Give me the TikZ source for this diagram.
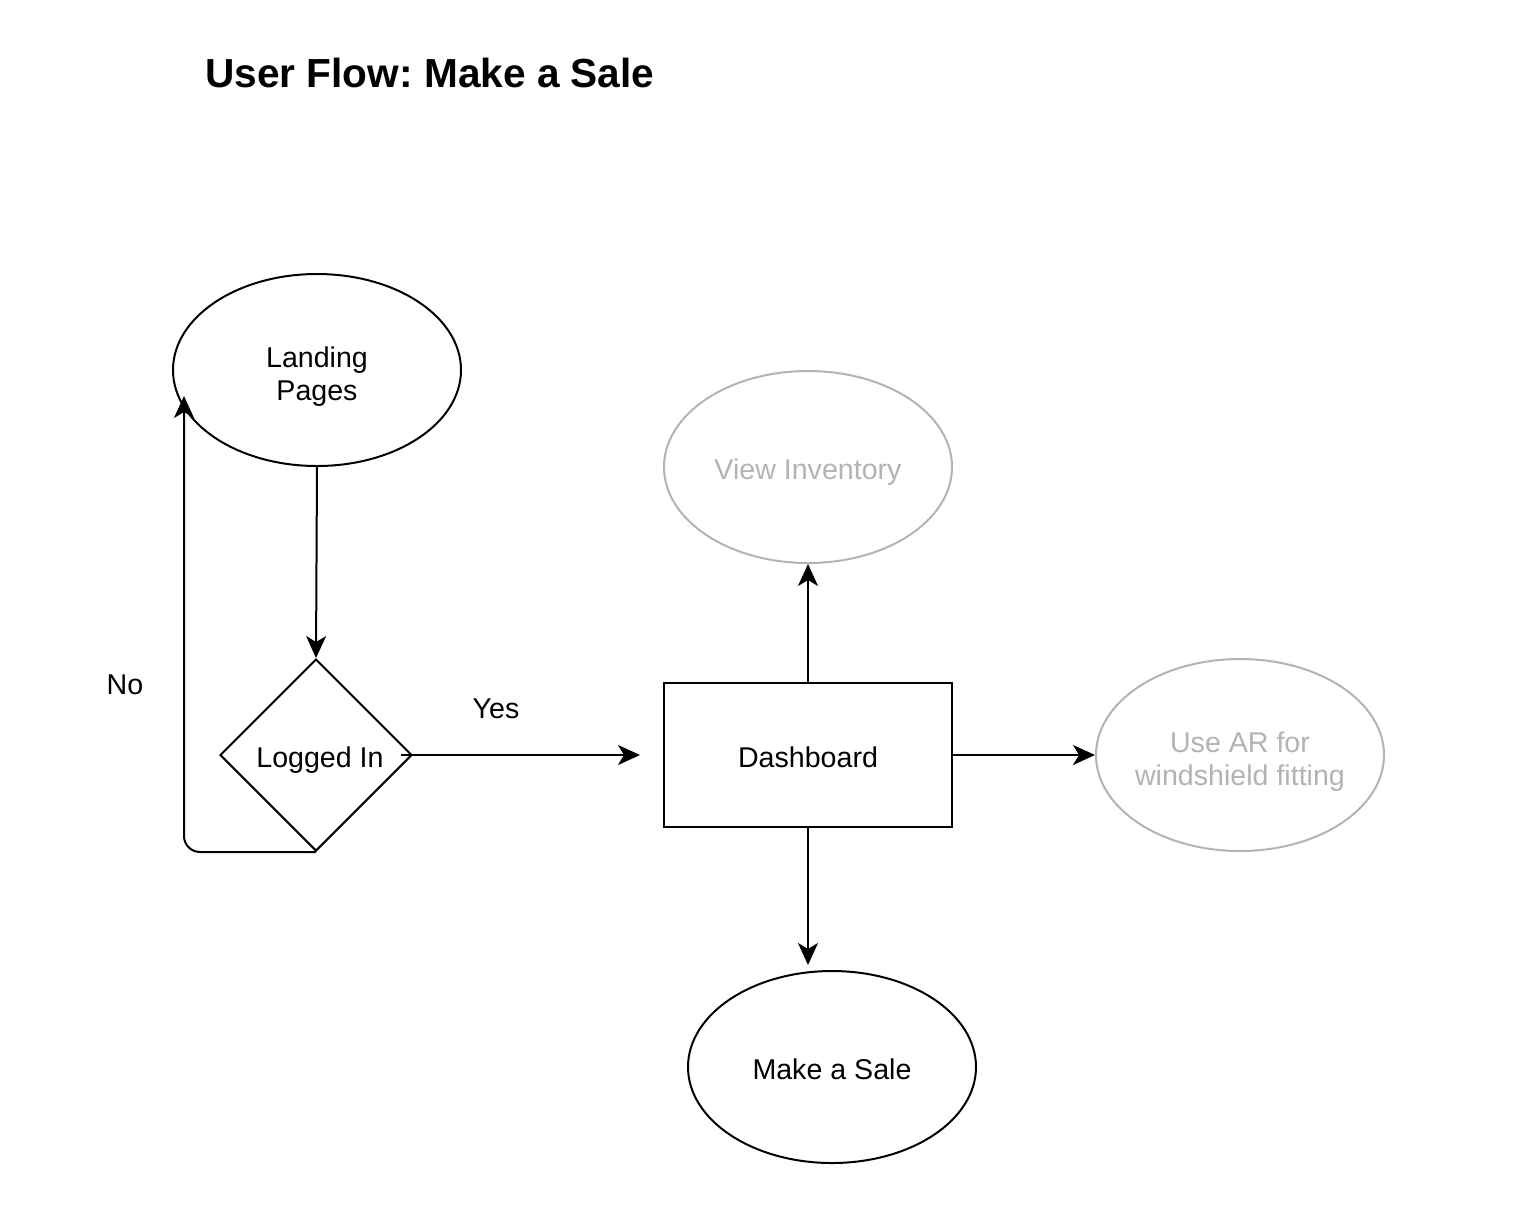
\documentclass[tikz,border=0pt]{standalone}
\usepackage{fontspec}
\setmainfont{Liberation Sans}
\usetikzlibrary{shapes.geometric,arrows.meta}
\definecolor{lightg}{HTML}{B3B3B3}
\frenchspacing
\newcommand{\twolines}[2]{\makebox[0pt][c]{\begin{tabular}[b]{@{}c@{}}#1\\#2\end{tabular}}}
\begin{document}
\begin{tikzpicture}[x=0.5pt,y=-0.5pt,
  base/.style={draw=black,line width=1pt,font=\fontsize{14.3}{16.5}\selectfont,inner sep=0pt,text height=14pt,text depth=2pt},
  multi/.style={text height=33pt,text depth=3pt},
  ell/.style={base,ellipse,minimum width=144pt,minimum height=96pt},
  ghost/.style={ell,draw=lightg,text=lightg},
  dia/.style={base,diamond,aspect=1,minimum width=96pt,minimum height=96pt},
  box/.style={base,rectangle,minimum width=144pt,minimum height=72pt},
  lbl/.style={font=\fontsize{14.3}{16.5}\selectfont,inner sep=0pt},
  arr/.style={line width=1pt,-{Stealth[length=11pt,width=10pt,inset=3pt]}}]
\useasboundingbox (0,0) rectangle (1536,1228);
\node[anchor=base west,inner sep=0pt,font=\fontsize{20.3}{24}\selectfont\bfseries] (title) at (205,87) {User Flow: Make a Sale};
\node[ell,multi] (land) at (317,370) {\twolines{Landing}{Pages}};
\node[dia] (logged) at (316,755) {\hspace*{4pt}Logged In};
\node[box] (dash) at (808,755) {Dashboard};
\node[ghost] (inv) at (808,467) {View Inventory};
\node[ghost,multi] (ar) at (1240,755) {\twolines{Use AR for}{windshield fitting}};
\node[ell] (sale) at (832,1067) {Make a Sale};
\coordinate (yesend) at (640,755);
\coordinate (noend) at (184,396);
\coordinate (saleend) at (808,965);
\node[lbl] (yes) at (496,709) {Yes};
\node[lbl] (no) at (125,685) {No};
\draw[arr] (land.south) -- (logged.north);
\draw[arr] ([xshift=-6pt]logged.east) -- (yesend);
\draw[arr,rounded corners=8pt] (logged.south) -| (noend);
\draw[arr] (dash.north) -- (inv.south);
\draw[arr] (dash.east) -- (ar.west);
\draw[arr] (dash.south) -- (saleend);
\end{tikzpicture}
\end{document}
